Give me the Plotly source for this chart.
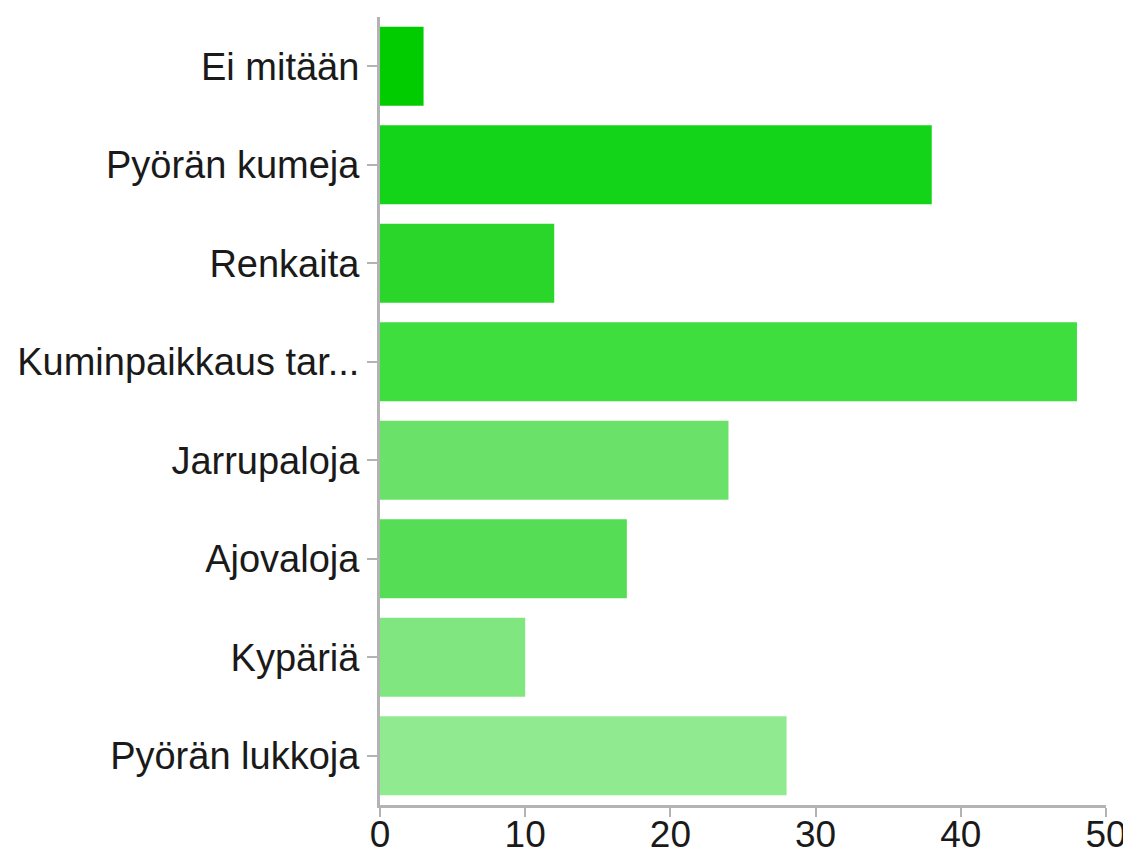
import plotly.graph_objects as go

# datos
categorias = ["Ei mitään", "Pyörän kumeja", "Renkaita", "Kuminpaikkaus tar...",
              "Jarrupaloja", "Ajovaloja", "Kypäriä", "Pyörän lukkoja"]
valores = [3, 38, 12, 48, 24, 17, 10, 28]
colores = ["#00cc00", "#14d41a", "#2ad62a", "#3ede3e",
           "#6ae26a", "#55dd55", "#80e680", "#90ea90"]
ticks_x = [0, 10, 20, 30, 40, 50]

fig = go.Figure()
fig.add_trace(go.Bar(x=valores, y=categorias, orientation="h",
                     marker=dict(color=colores, line=dict(width=0))))

fuente = dict(family="Liberation Sans, Arial, sans-serif", size=38, color="#1a1a1a")
fuente_x = dict(family="Liberation Sans, Arial, sans-serif", size=37, color="#1a1a1a")

fig.update_xaxes(range=[0, 50], tickvals=ticks_x, showgrid=False, zeroline=False,
                 showline=True, linecolor="#b3b3b3", linewidth=3,
                 ticks="outside", ticklen=9, tickwidth=2, tickcolor="#b3b3b3",
                 tickfont=fuente_x, ticklabelstandoff=-14, automargin=False)
fig.update_yaxes(categoryorder="array", categoryarray=categorias, autorange="reversed",
                 showgrid=False, zeroline=False, showline=True, linecolor="#b3b3b3",
                 linewidth=3, ticks="outside", ticklen=10, tickwidth=2, tickcolor="#b3b3b3",
                 tickfont=fuente, automargin=False)

# el html se ve con 8px de margen del body
fig.update_layout(width=1131, height=855, bargap=0.2, showlegend=False,
                  plot_bgcolor="white", paper_bgcolor="white",
                  margin=dict(l=372, r=33, t=9, b=58))

fig.write_html("out.html")
